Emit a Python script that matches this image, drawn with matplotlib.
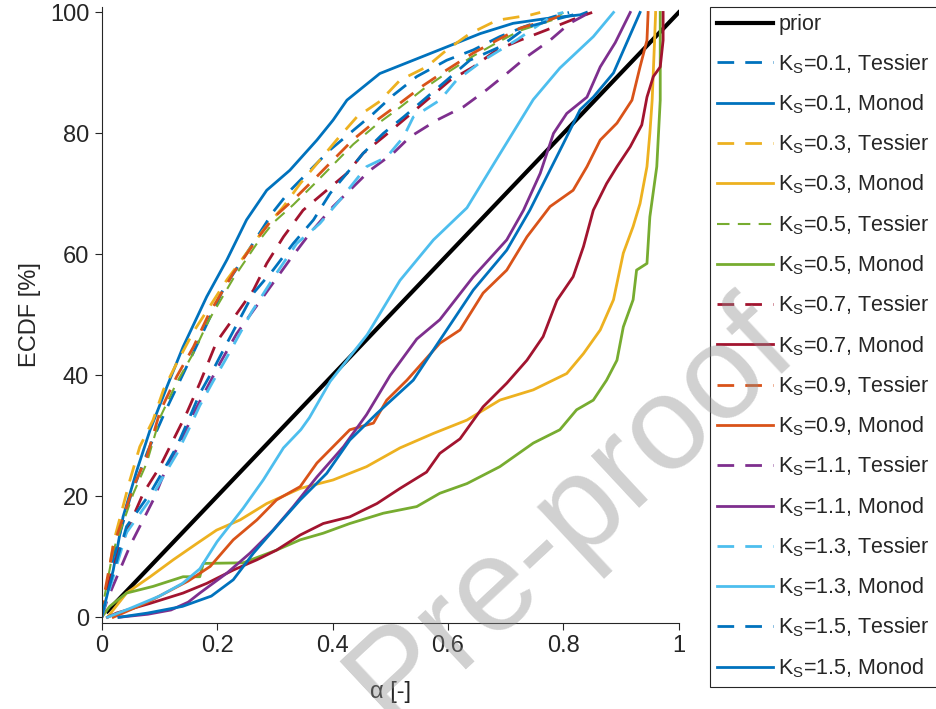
import matplotlib
matplotlib.use('Agg')
import matplotlib.pyplot as plt

plt.rcParams['font.family'] = ['Liberation Sans', 'DejaVu Sans']
plt.rcParams['mathtext.fontset'] = 'custom'
plt.rcParams['mathtext.rm'] = 'Liberation Sans'
plt.rcParams['mathtext.default'] = 'regular'

# colours (MATLAB default order)
c_blue = '#0072BD'
c_yellow = '#EDB120'
c_green = '#77AC30'
c_red = '#A2142F'
c_orange = '#D95319'
c_purple = '#7E2F8E'
c_cyan = '#4DBEEE'

# prior
prior_x = [0.01, 1.0]
prior_y = [1.0, 100.0]

# ---- Tessier curves (dashed)
t01_x = [0, 0.01, 0.02, 0.05, 0.08, 0.11, 0.14, 0.17, 0.211, 0.25, 0.297, 0.326, 0.396, 0.436,
         0.471, 0.505, 0.546, 0.598, 0.644, 0.69, 0.731, 0.783, 0.81]
t01_y = [0, 4, 10, 20, 27.5, 34, 40, 46, 54.3, 60, 67, 70.5, 77.3, 80.5,
         83.3, 86.3, 89.4, 92.1, 93.8, 96, 97.6, 99.3, 100]

t03_x = [0.0, 0.009, 0.02, 0.049, 0.066, 0.089, 0.107, 0.13, 0.159, 0.217, 0.251, 0.28, 0.315,
         0.344, 0.373, 0.407, 0.442, 0.482, 0.517, 0.563, 0.598, 0.638, 0.685, 0.744, 0.76]
t03_y = [0, 5.1, 12.2, 22.7, 28.2, 32.6, 37.6, 42, 47.2, 55.8, 60.2, 64, 67.9,
         71.7, 75, 78.9, 82.7, 85.3, 88.8, 91, 93.8, 96.5, 98.7, 99.6, 100]

t05_x = [0, 0.005, 0.02, 0.055, 0.078, 0.101, 0.13, 0.159, 0.185, 0.228, 0.269, 0.297, 0.332,
         0.367, 0.401, 0.436, 0.477, 0.517, 0.557, 0.598, 0.644, 0.685, 0.725, 0.783, 0.80]
t05_y = [0, 3.5, 11, 20.5, 25.5, 33, 38.8, 43.7, 49, 56, 61.8, 65.2, 68.2,
         71.5, 74.8, 78.2, 81.5, 84.3, 87.3, 90, 92.8, 95, 97, 98.8, 100]

t07_x = [0, 0.01, 0.032, 0.072, 0.101, 0.124, 0.147, 0.17, 0.199, 0.263, 0.286, 0.315, 0.349,
         0.39, 0.425, 0.453, 0.488, 0.523, 0.604, 0.644, 0.685, 0.725, 0.771, 0.829, 0.85]
t07_y = [0, 5, 11.7, 20.5, 24.9, 29.3, 33.7, 38.7, 45.5, 54.1, 58.5, 62.9, 67.3,
         70.6, 73.4, 76.7, 79.4, 82.2, 88.8, 91, 93.8, 95.4, 97.1, 99.3, 100]

t09_x = [0, 0.005, 0.02, 0.055, 0.078, 0.101, 0.13, 0.159, 0.185, 0.228, 0.269, 0.297, 0.332,
         0.367, 0.401, 0.436, 0.477, 0.517, 0.557, 0.598, 0.644, 0.685, 0.725, 0.783, 0.81]
t09_y = [0, 4, 11.7, 21.6, 26.5, 34, 39.8, 44.7, 50, 56.9, 62.5, 66, 69,
         72.3, 75.6, 79, 82.2, 85, 87.9, 90.5, 93.3, 95.4, 97.4, 99, 100]

t11_x = [0, 0.01, 0.05, 0.09, 0.113, 0.136, 0.159, 0.205, 0.234, 0.292, 0.326, 0.361, 0.401,
         0.43, 0.465, 0.505, 0.534, 0.581, 0.627, 0.667, 0.702, 0.737, 0.777, 0.811, 0.846]
t11_y = [0, 3, 12, 19.5, 24.9, 28.8, 33.7, 42, 46.9, 54.6, 59.1, 63.5, 67.9,
         70.6, 73.9, 76.7, 79.4, 82.2, 84.4, 87.2, 89.9, 92.7, 95.4, 98.2, 100]

t13_x = [0, 0.01, 0.043, 0.084, 0.107, 0.13, 0.153, 0.17, 0.193, 0.217, 0.26, 0.303, 0.338,
         0.378, 0.413, 0.459, 0.494, 0.523, 0.54, 0.586, 0.615, 0.66, 0.72, 0.783, 0.80]
t13_y = [0, 3.5, 14, 19.5, 23.3, 27, 31.5, 35, 39, 43, 50.5, 56.9, 61.8,
         65.1, 69, 74.5, 76.1, 79.4, 82.7, 85.5, 88.8, 92, 95.5, 99.6, 100]

t15_x = [0, 0.01, 0.043, 0.084, 0.107, 0.13, 0.153, 0.17, 0.193, 0.217, 0.263, 0.297, 0.332,
         0.367, 0.396, 0.425, 0.453, 0.488, 0.523, 0.598, 0.638, 0.69, 0.737, 0.817, 0.83]
t15_y = [0, 4, 15, 20.5, 24.3, 28.2, 33.2, 37, 40.9, 45.3, 53.6, 57.4, 61.8,
         65.7, 70.1, 73.4, 76.7, 80, 82.7, 88.8, 92.1, 94.3, 97.6, 99.6, 100]

# ---- Monod curves (solid)
m01_x = [0, 0.003, 0.02, 0.037, 0.061, 0.084, 0.113, 0.141, 0.182, 0.217, 0.251, 0.286, 0.326,
         0.373, 0.401, 0.425, 0.482, 0.54, 0.598, 0.656, 0.713, 0.771, 0.829, 0.84]
m01_y = [0, 1.2, 7.8, 16.6, 24.3, 31, 38.1, 44.7, 53, 59.1, 65.7, 70.6, 73.9,
         78.9, 82.2, 85.5, 89.9, 92.1, 94.3, 96.5, 98.2, 99, 99.6, 100]

m03_x = [0.01, 0.043, 0.084, 0.124, 0.165, 0.199, 0.24, 0.286, 0.344, 0.401, 0.459, 0.517, 0.575,
         0.633, 0.69, 0.748, 0.806, 0.835, 0.864, 0.887, 0.904, 0.921, 0.933, 0.945, 0.95,
         0.954, 0.958, 0.96]
m03_y = [0, 4, 6.7, 9.5, 12.2, 14.4, 16.1, 18.8, 21.3, 22.7, 24.9, 28, 30.4,
         32.6, 35.9, 37.6, 40.3, 43.6, 47.5, 52.5, 60.2, 64.6, 68.4, 74.5, 80,
         85.5, 94.9, 100]

m05_x = [0.0, 0.014, 0.043, 0.089, 0.141, 0.17, 0.176, 0.245, 0.303, 0.344, 0.384, 0.43, 0.488,
         0.546, 0.586, 0.633, 0.69, 0.748, 0.794, 0.823, 0.852, 0.875, 0.893, 0.904, 0.921,
         0.927, 0.945, 0.95, 0.962, 0.968, 0.968]
m05_y = [0, 1.8, 4, 5.1, 6.7, 6.7, 8.9, 9, 11.1, 12.8, 13.9, 15.5, 17.2,
         18.3, 20.5, 22.1, 24.9, 28.8, 31, 34.3, 35.9, 39.2, 42.5, 48, 52.5,
         57.4, 58.5, 66.2, 74.5, 85.5, 100]

m07_x = [0.01, 0.026, 0.084, 0.141, 0.182, 0.228, 0.269, 0.303, 0.344, 0.384, 0.43, 0.477, 0.517,
         0.563, 0.586, 0.621, 0.661, 0.702, 0.737, 0.765, 0.789, 0.817, 0.835, 0.852, 0.875,
         0.893, 0.916, 0.936, 0.945, 0.956, 0.968, 0.973, 0.973]
m07_y = [0, 0.7, 2.3, 4, 5.6, 7.8, 9.5, 11.1, 13.6, 15.5, 16.6, 18.8, 21.3,
         24, 27.1, 29.5, 34.8, 38.7, 42.5, 46.4, 52.4, 56.3, 61.3, 67.3, 71.7,
         74.5, 77.8, 81.4, 86, 89.4, 91, 95.4, 100]

m09_x = [0.02, 0.08, 0.12, 0.15, 0.188, 0.228, 0.269, 0.303, 0.344, 0.373, 0.401, 0.43, 0.471,
         0.494, 0.529, 0.586, 0.621, 0.661, 0.702, 0.737, 0.777, 0.817, 0.841, 0.864, 0.893,
         0.919, 0.933, 0.945, 0.947]
m09_y = [0, 2.5, 4.5, 6, 8.4, 12.8, 16.1, 19.4, 21.6, 25.5, 28.2, 31, 32.1,
         35.9, 39.2, 45.3, 47.5, 53.6, 57.4, 62.9, 67.9, 70.6, 74.5, 78.9, 81.7,
         85.5, 91, 95.4, 100]

m11_x = [0.03, 0.08, 0.12, 0.15, 0.17, 0.217, 0.257, 0.297, 0.332, 0.373, 0.419, 0.459, 0.5,
         0.546, 0.586, 0.644, 0.702, 0.731, 0.76, 0.783, 0.806, 0.841, 0.864, 0.89, 0.916]
m11_y = [0, 0.5, 1.2, 2.5, 4, 7.3, 10.6, 14.4, 18.3, 23.2, 28.2, 33.5, 40,
         46, 49.2, 56.3, 62.4, 67.3, 73.4, 80, 83.3, 86, 91, 95, 100]

m13_x = [0.01, 0.05, 0.10, 0.14, 0.17, 0.20, 0.245, 0.28, 0.315, 0.345, 0.36, 0.396, 0.46,
         0.517, 0.575, 0.633, 0.69, 0.748, 0.794, 0.852, 0.887]
m13_y = [0, 1.5, 3.5, 5.6, 8, 12.5, 18, 22.7, 28, 31, 33, 39, 46.7,
         55.7, 62.4, 67.7, 76.6, 85.6, 90.8, 96, 100]

m15_x = [0.03, 0.08, 0.14, 0.19, 0.228, 0.263, 0.303, 0.344, 0.39, 0.43, 0.477, 0.54, 0.586,
         0.644, 0.702, 0.742, 0.771, 0.80, 0.829, 0.852, 0.887, 0.91, 0.933]
m15_y = [0, 0.7, 1.8, 3.5, 6.2, 10.6, 15, 19.4, 23.8, 29.3, 33.7, 39.2, 45.8,
         54.1, 60.7, 67.3, 72.8, 78.3, 83.9, 86, 90, 95, 100]

ks_values = ['0.1', '0.3', '0.5', '0.7', '0.9', '1.1', '1.3', '1.5']
ks_colors = [c_blue, c_yellow, c_green, c_red, c_orange, c_purple, c_cyan, c_blue]
tessier = [(t01_x, t01_y), (t03_x, t03_y), (t05_x, t05_y), (t07_x, t07_y),
           (t09_x, t09_y), (t11_x, t11_y), (t13_x, t13_y), (t15_x, t15_y)]
monod = [(m01_x, m01_y), (m03_x, m03_y), (m05_x, m05_y), (m07_x, m07_y),
         (m09_x, m09_y), (m11_x, m11_y), (m13_x, m13_y), (m15_x, m15_y)]

axis_col = '#262626'

fig = plt.figure(figsize=(9.36, 7.09), dpi=100)
ax = fig.add_axes([101.7 / 936, 86.3 / 709, 577 / 936, 615.7 / 709])

ax.plot(prior_x, prior_y, color='k', lw=3.0, label='prior')
for ks, col, (tx, ty), (mx, my) in zip(ks_values, ks_colors, tessier, monod):
    tlw = 1.5 if ks == '0.5' else 2.0
    ax.plot(tx, ty, color=col, lw=tlw, ls=(0, (6, 4)),
            label=r'$K_S$=' + ks + ', Tessier')
    ax.plot(mx, my, color=col, lw=2.0, label=r'$K_S$=' + ks + ', Monod')

ax.set_xlim(0, 1)
ax.set_ylim(-0.9, 100.9)
ax.set_xticks([0, 0.2, 0.4, 0.6, 0.8, 1])
ax.set_xticklabels(['0', '0.2', '0.4', '0.6', '0.8', '1'])
ax.set_yticks([0, 20, 40, 60, 80, 100])
for s in ['top', 'right']:
    ax.spines[s].set_visible(False)
for s in ['left', 'bottom']:
    ax.spines[s].set_color(axis_col)
    ax.spines[s].set_linewidth(0.8)
ax.tick_params(direction='out', length=5, width=0.8, colors=axis_col,
               labelsize=17, pad=4)
ax.set_xlabel('α [-]', fontsize=17, color=axis_col, labelpad=17)
ax.set_ylabel('ECDF [%]', fontsize=17, color=axis_col, labelpad=6)

leg = ax.legend(loc='upper left', bbox_to_anchor=(709.5 / 936, 1 - 6.7 / 709),
                bbox_transform=fig.transFigure, fontsize=15.5, frameon=True,
                fancybox=False, edgecolor=axis_col, framealpha=1,
                borderaxespad=0, borderpad=0.35, handlelength=2.6,
                handletextpad=0.25, labelspacing=0.775)
leg.get_frame().set_linewidth(0.8)
for t in leg.get_texts():
    t.set_color(axis_col)

# watermark, anchored at the start of the word
fig.text(0.419, -0.027, 'Pre-proof', fontsize=96, color='0.55', alpha=0.4,
         rotation=43, ha='left', va='baseline', rotation_mode='anchor', zorder=10)

fig.savefig('out.png', dpi=100)
